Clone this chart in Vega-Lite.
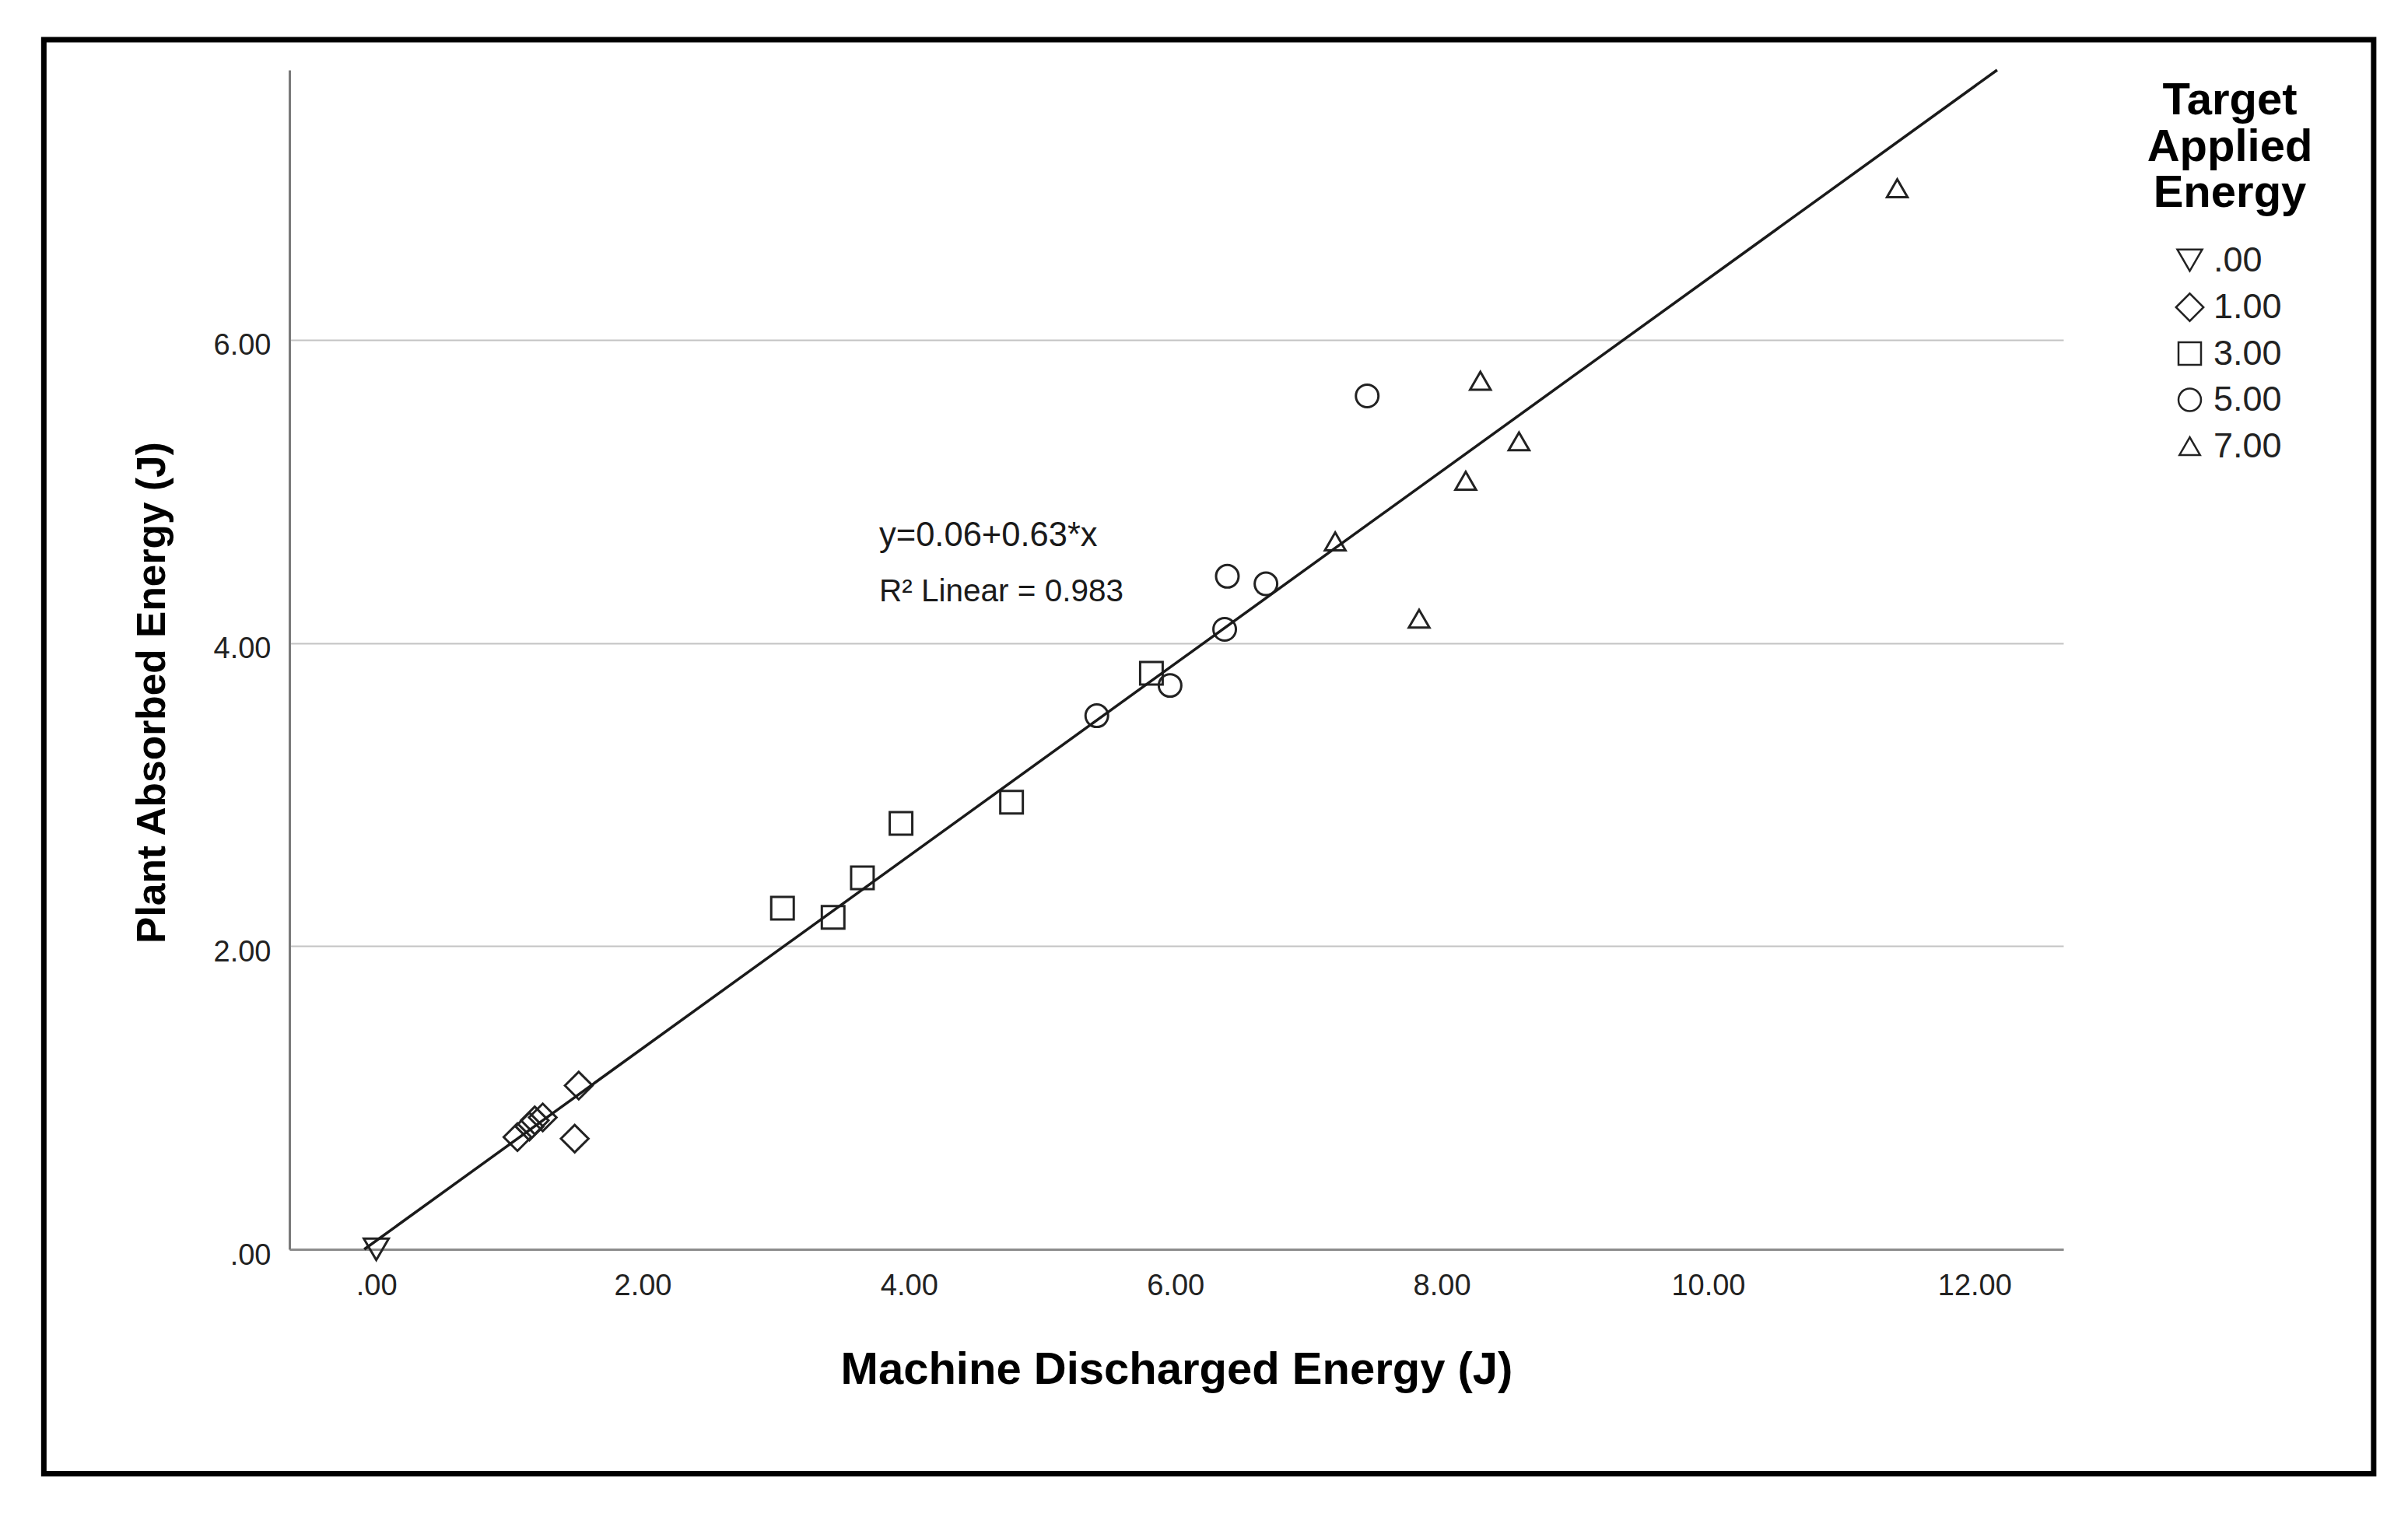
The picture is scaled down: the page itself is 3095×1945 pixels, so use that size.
{
  "$schema": "https://vega.github.io/schema/vega-lite/v6.json",
  "width": 2280,
  "height": 1516,
  "autosize": {"type": "none"},
  "padding": {"left": 372, "top": 90, "right": 443, "bottom": 339},
  "background": "white",
  "config": {
    "view": {"stroke": null},
    "font": "Liberation Sans",
    "axisX": {
      "grid": false, "ticks": false,
      "domainColor": "#8c8c8c", "domainWidth": 3,
      "labelFontSize": 38, "labelColor": "#222222", "labelPadding": 28,
      "labelFlush": false, "labelOverlap": false,
      "titleFontSize": 58, "titleFontWeight": "bold", "titleColor": "#000000",
      "titleBaseline": "alphabetic", "titleY": 172
    },
    "axisY": {
      "grid": true, "gridColor": "#c4c4c4", "gridWidth": 2,
      "ticks": false,
      "domainColor": "#7a7a7a", "domainWidth": 3,
      "labelFontSize": 38, "labelColor": "#222222", "labelPadding": 24, "labelOffset": 8,
      "labelFlush": false, "labelOverlap": false,
      "titleFontSize": 51.5, "titleFontWeight": "bold", "titleColor": "#000000",
      "titleBaseline": "alphabetic", "titleX": -161, "titleY": 800
    }
  },
  "datasets": {
    "points": [
      {"x": 0.0, "y": 0.0, "g": ".00"},
      {"x": 1.52, "y": 1.08, "g": "1.00"},
      {"x": 1.49, "y": 0.73, "g": "1.00"},
      {"x": 1.06, "y": 0.74, "g": "1.00"},
      {"x": 1.15, "y": 0.81, "g": "1.00"},
      {"x": 1.19, "y": 0.85, "g": "1.00"},
      {"x": 1.25, "y": 0.87, "g": "1.00"},
      {"x": 3.05, "y": 2.25, "g": "3.00"},
      {"x": 3.43, "y": 2.19, "g": "3.00"},
      {"x": 3.65, "y": 2.45, "g": "3.00"},
      {"x": 3.94, "y": 2.81, "g": "3.00"},
      {"x": 4.77, "y": 2.95, "g": "3.00"},
      {"x": 5.82, "y": 3.80, "g": "3.00"},
      {"x": 5.41, "y": 3.52, "g": "5.00"},
      {"x": 5.96, "y": 3.72, "g": "5.00"},
      {"x": 6.37, "y": 4.09, "g": "5.00"},
      {"x": 6.39, "y": 4.44, "g": "5.00"},
      {"x": 6.68, "y": 4.39, "g": "5.00"},
      {"x": 7.44, "y": 5.63, "g": "5.00"},
      {"x": 7.20, "y": 4.67, "g": "7.00"},
      {"x": 7.83, "y": 4.16, "g": "7.00"},
      {"x": 8.18, "y": 5.07, "g": "7.00"},
      {"x": 8.29, "y": 5.73, "g": "7.00"},
      {"x": 8.58, "y": 5.33, "g": "7.00"},
      {"x": 11.42, "y": 7.00, "g": "7.00"}
    ],
    "fit": [
      {"x": -0.09, "y": 0.0},
      {"x": 12.17, "y": 7.78}
    ],
    "eq": [
      {"x": 3.776, "y": 4.639, "label": "y=0.06+0.63*x"}
    ],
    "r2": [
      {"x": 3.776, "y": 4.275, "label": "R² Linear = 0.983"}
    ]
  },
  "layer": [
    {
      "data": {"name": "points"},
      "mark": {"type": "point", "filled": false, "stroke": "#222222", "strokeWidth": 3, "opacity": 1},
      "encoding": {
        "x": {
          "field": "x", "type": "quantitative",
          "scale": {"domain": [-0.652, 12.667], "nice": false, "zero": false},
          "axis": {"values": [0, 2, 4, 6, 8, 10, 12], "labelExpr": "datum.value == 0 ? '.00' : format(datum.value, '.2f')"},
          "title": "Machine Discharged Energy (J)"
        },
        "y": {
          "field": "y", "type": "quantitative",
          "scale": {"domain": [0, 7.78], "nice": false, "zero": false},
          "axis": {"values": [0, 2, 4, 6], "labelExpr": "datum.value == 0 ? '.00' : format(datum.value, '.2f')"},
          "title": "Plant Absorbed Energy (J)"
        },
        "shape": {
          "field": "g", "type": "nominal",
          "scale": {"domain": [".00", "1.00", "3.00", "5.00", "7.00"], "range": ["triangle-down", "diamond", "square", "circle", "triangle-up"]},
          "legend": {
            "orient": "none", "legendX": 2388, "legendY": 11,
            "title": ["Target", "Applied", "Energy"],
            "titleFontSize": 58, "titleFontWeight": "bold", "titleColor": "#000000", "titleLineHeight": 59.5,
            "titleAlign": "center", "titleAnchor": "middle", "titlePadding": 34, "titleLimit": 2000,
            "labelFontSize": 45, "labelColor": "#222222", "labelLimit": 1000,
            "rowPadding": 13.5, "symbolOffset": -8, "labelOffset": 8,
            "symbolStrokeWidth": 2.5, "symbolStrokeColor": "#222222", "symbolFillColor": "transparent",
            "padding": 0
          }
        },
        "size": {
          "field": "g", "type": "nominal",
          "scale": {"type": "ordinal", "domain": [".00", "1.00", "3.00", "5.00", "7.00"], "range": [1024, 1250, 840, 840, 700]},
          "legend": {
            "orient": "none", "legendX": 2388, "legendY": 11,
            "title": ["Target", "Applied", "Energy"]
          }
        }
      }
    },
    {
      "data": {"name": "fit"},
      "mark": {"type": "line", "color": "#1a1a1a", "strokeWidth": 3.5},
      "encoding": {
        "x": {"field": "x", "type": "quantitative", "scale": {"domain": [-0.652, 12.667], "nice": false, "zero": false},
              "axis": {"values": [0, 2, 4, 6, 8, 10, 12], "labelExpr": "datum.value == 0 ? '.00' : format(datum.value, '.2f')"},
              "title": "Machine Discharged Energy (J)"},
        "y": {"field": "y", "type": "quantitative", "scale": {"domain": [0, 7.78], "nice": false, "zero": false},
              "axis": {"values": [0, 2, 4, 6], "labelExpr": "datum.value == 0 ? '.00' : format(datum.value, '.2f')"},
              "title": "Plant Absorbed Energy (J)"}
      }
    },
    {
      "data": {"name": "eq"},
      "mark": {"type": "text", "align": "left", "baseline": "alphabetic", "fontSize": 43.5, "color": "#1a1a1a", "font": "Liberation Sans"},
      "encoding": {
        "x": {"field": "x", "type": "quantitative", "scale": {"domain": [-0.652, 12.667], "nice": false, "zero": false},
              "axis": {"values": [0, 2, 4, 6, 8, 10, 12], "labelExpr": "datum.value == 0 ? '.00' : format(datum.value, '.2f')"},
              "title": "Machine Discharged Energy (J)"},
        "y": {"field": "y", "type": "quantitative", "scale": {"domain": [0, 7.78], "nice": false, "zero": false},
              "axis": {"values": [0, 2, 4, 6], "labelExpr": "datum.value == 0 ? '.00' : format(datum.value, '.2f')"},
              "title": "Plant Absorbed Energy (J)"},
        "text": {"field": "label"}
      }
    },
    {
      "data": {"name": "r2"},
      "mark": {"type": "text", "align": "left", "baseline": "alphabetic", "fontSize": 40.5, "color": "#1a1a1a", "font": "Liberation Sans"},
      "encoding": {
        "x": {"field": "x", "type": "quantitative", "scale": {"domain": [-0.652, 12.667], "nice": false, "zero": false},
              "axis": {"values": [0, 2, 4, 6, 8, 10, 12], "labelExpr": "datum.value == 0 ? '.00' : format(datum.value, '.2f')"},
              "title": "Machine Discharged Energy (J)"},
        "y": {"field": "y", "type": "quantitative", "scale": {"domain": [0, 7.78], "nice": false, "zero": false},
              "axis": {"values": [0, 2, 4, 6], "labelExpr": "datum.value == 0 ? '.00' : format(datum.value, '.2f')"},
              "title": "Plant Absorbed Energy (J)"},
        "text": {"field": "label"}
      }
    },
    {
      "data": {"values": [{}]},
      "mark": {"type": "rect", "fill": null, "stroke": "#000000", "strokeWidth": 7, "clip": false},
      "encoding": {
        "x": {"datum": -2.496, "type": "quantitative", "scale": {"domain": [-0.652, 12.667], "nice": false, "zero": false},
              "axis": {"values": [0, 2, 4, 6, 8, 10, 12], "labelExpr": "datum.value == 0 ? '.00' : format(datum.value, '.2f')"},
              "title": "Machine Discharged Energy (J)"},
        "x2": {"datum": 14.997},
        "y": {"datum": 7.98, "type": "quantitative", "scale": {"domain": [0, 7.78], "nice": false, "zero": false},
              "axis": {"values": [0, 2, 4, 6], "labelExpr": "datum.value == 0 ? '.00' : format(datum.value, '.2f')"},
              "title": "Plant Absorbed Energy (J)"},
        "y2": {"datum": -1.481}
      }
    }
  ]
}
